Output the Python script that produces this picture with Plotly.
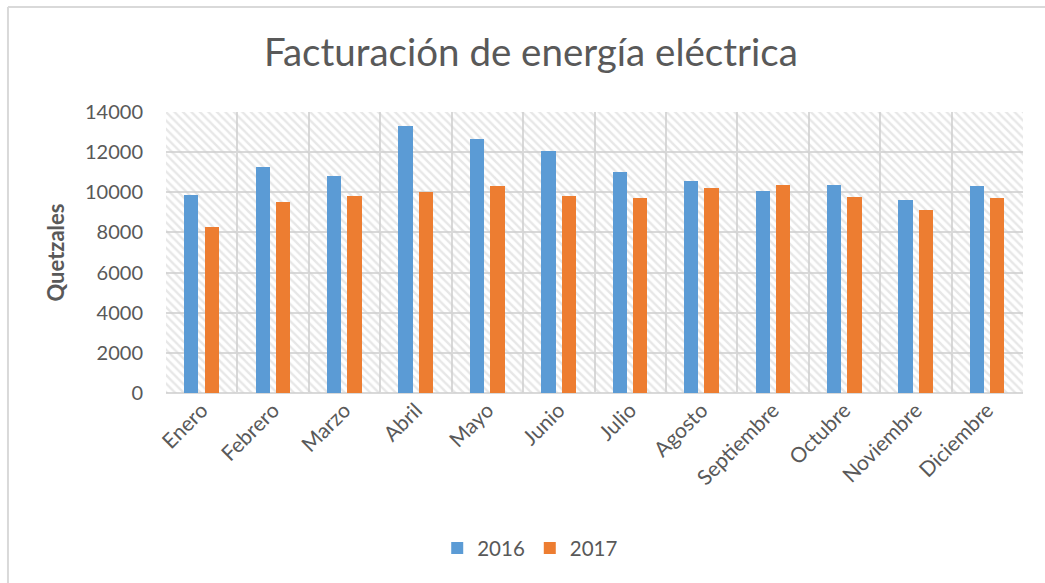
import plotly.graph_objects as go

meses = ["Enero", "Febrero", "Marzo", "Abril", "Mayo", "Junio", "Julio",
         "Agosto", "Septiembre", "Octubre", "Noviembre", "Diciembre"]
valores_2016 = [9850, 11250, 10800, 13300, 12650, 12080, 11000, 10550, 10050, 10350, 9600, 10330]
valores_2017 = [8250, 9500, 9830, 10000, 10300, 9800, 9700, 10200, 10350, 9750, 9100, 9700]
eje_y_max = 14000

GRIS_TEXTO = "#595959"
GRIS_REJILLA = "#d9d9d9"
FUENTE = "Lato"

fig = go.Figure()

# hatched plot-area background (one full-width bar per category)
fig.add_trace(go.Bar(
    x=meses, y=[eje_y_max] * len(meses), width=1, offset=-0.5,
    marker=dict(color="rgba(0,0,0,0)", line=dict(width=0),
                pattern=dict(shape="\\", fgcolor="#cfcfcf", bgcolor="rgba(0,0,0,0)",
                             size=6, solidity=0.4)),
    showlegend=False, hoverinfo="skip",
))

fig.add_trace(go.Bar(
    x=meses, y=valores_2016, name="2016", width=0.2, offset=-0.245,
    marker=dict(color="#5B9BD5", line=dict(width=0)),
))
fig.add_trace(go.Bar(
    x=meses, y=valores_2017, name="2017", width=0.2, offset=0.04,
    marker=dict(color="#ED7D31", line=dict(width=0)),
))

# outer chart frame (left and top edges)
fig.add_shape(type="line", xref="paper", yref="paper",
              x0=-0.1844, x1=-0.1844, y0=-1.0, y1=1.3737,
              line=dict(color="#d9d9d9", width=2))
fig.add_shape(type="line", xref="paper", yref="paper",
              x0=-0.1844, x1=1.1, y0=1.3737, y1=1.3737,
              line=dict(color="#d9d9d9", width=2))

fig.update_layout(
    width=1045, height=583,
    margin=dict(l=166, r=22, t=112, b=190),
    barmode="overlay",
    paper_bgcolor="white", plot_bgcolor="white",
    font=dict(family=FUENTE, color=GRIS_TEXTO, size=21),
    title=dict(text="Facturación de energía eléctrica", x=0.508, xanchor="center",
               y=0.91, yanchor="middle",
               font=dict(family=FUENTE, size=38.5, color=GRIS_TEXTO)),
    legend=dict(orientation="h", x=0.425, xanchor="center", y=-0.552, yanchor="middle",
                font=dict(size=20.5, color=GRIS_TEXTO), traceorder="normal",
                itemwidth=30),
    xaxis=dict(type="category", tickson="boundaries", showgrid=True,
               gridcolor=GRIS_REJILLA, gridwidth=2, tickangle=-45,
               ticks="", showline=False, tickfont=dict(size=21, color=GRIS_TEXTO)),
    yaxis=dict(range=[0, eje_y_max], dtick=2000, tickformat="d", showgrid=True,
               gridcolor=GRIS_REJILLA, gridwidth=2, zeroline=True,
               zerolinecolor=GRIS_REJILLA, zerolinewidth=2,
               ticks="", ticklabelstandoff=22,
               tickfont=dict(size=20, color=GRIS_TEXTO),
               title=dict(text="<b>Quetzales</b>", standoff=14,
                          font=dict(size=22, color=GRIS_TEXTO))),
    bargap=0,
)

fig.write_html("out.html")
